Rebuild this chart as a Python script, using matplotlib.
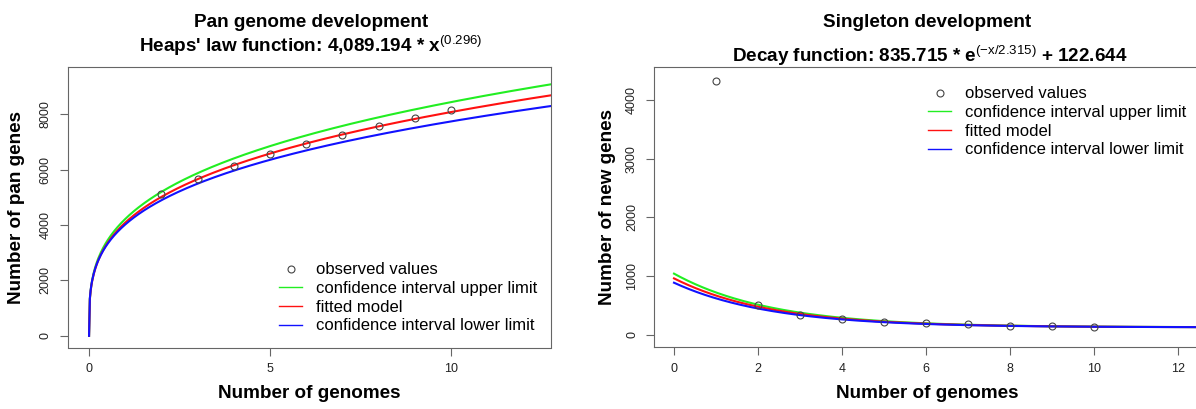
import numpy as np
import matplotlib.pyplot as plt
from matplotlib.lines import Line2D

plt.rcParams['font.family'] = ['Liberation Sans', 'DejaVu Sans']
plt.rcParams['mathtext.fontset'] = 'custom'
plt.rcParams['mathtext.rm'] = 'Liberation Sans:bold'
plt.rcParams['mathtext.it'] = 'Liberation Sans:bold'
plt.rcParams['mathtext.bf'] = 'Liberation Sans:bold'
plt.rcParams['mathtext.sf'] = 'Liberation Sans'

pan_genomes = [2, 3, 4, 5, 6, 7, 8, 9, 10]
pan_genes = [5116, 5668, 6148, 6560, 6921, 7267, 7570, 7881, 8159]
new_genomes = [1, 2, 3, 4, 5, 6, 7, 8, 9, 10]
new_genes = [4330, 497, 326, 262, 216, 194, 175, 154, 140, 128]

# fitted models: Heaps' law k * x^gamma, decay a * exp(-x/tau) + c
heaps_fit = (4089.194, 0.296)
heaps_upper = (4222.0, 0.301)
heaps_lower = (4022.0, 0.2846)
decay_fit = (835.715, 2.315, 122.644)
decay_upper = (917.0, 2.315, 122.644)
decay_lower = (762.0, 2.315, 122.644)

legend_labels = ['observed values', 'confidence interval upper limit',
                 'fitted model', 'confidence interval lower limit']

W, H = 1196, 409
def fx(px):
    return px / W
def fy(py):
    return 1 - py / H

GREEN, RED, BLUE = '#22ee22', '#ff1111', '#1111ff'
GRAY = '#666666'

fig = plt.figure(figsize=(W / 100, H / 100), dpi=100)
ax1 = fig.add_axes([fx(67.7), fy(347.5), fx(551 - 67.7), (347.5 - 66.7) / H])
ax2 = fig.add_axes([fx(654), fy(347), fx(1200 - 654), (347 - 67) / H])

x = np.linspace(0, 13, 600)

def heaps(p):
    return p[0] * x ** p[1]

def decay(p):
    return p[0] * np.exp(-x / p[1]) + p[2]

def handles():
    return [Line2D([], [], ls='none', marker='o', mfc='none', mec='#444444', ms=5, mew=0.8),
            Line2D([], [], color=GREEN, lw=1),
            Line2D([], [], color=RED, lw=1),
            Line2D([], [], color=BLUE, lw=1)]

# left panel
ax1.plot(x, heaps(heaps_upper), color=GREEN, lw=1.5)
ax1.plot(x, heaps(heaps_fit), color=RED, lw=1.5)
ax1.plot(x, heaps(heaps_lower), color=BLUE, lw=1.5)
ax1.plot(pan_genomes, pan_genes, ls='none', marker='o', mfc='none', mec='#444444', ms=5, mew=0.8, zorder=5)
ax1.set_xlim(-0.59, 12.76)
ax1.set_ylim(-422, 9722)
ax1.set_xticks([0, 5, 10])
ax1.set_yticks([0, 2000, 4000, 6000, 8000])
ax1.legend(handles(), legend_labels, loc='upper left', bbox_to_anchor=(fx(279), fy(262.5)),
           bbox_transform=fig.transFigure, frameon=False, borderpad=0, borderaxespad=0,
           handlelength=1.4, handletextpad=0.8, labelspacing=0.22, fontsize=12)

# right panel
ax2.plot(x, decay(decay_upper), color=GREEN, lw=1.5)
ax2.plot(x, decay(decay_fit), color=RED, lw=1.5)
ax2.plot(x, decay(decay_lower), color=BLUE, lw=1.5)
ax2.plot(new_genomes, new_genes, ls='none', marker='o', mfc='none', mec='#444444', ms=5, mew=0.8, zorder=5)
ax2.set_xlim(-0.476, 12.52)
ax2.set_ylim(-213, 4567)
ax2.set_xticks(range(0, 13, 2))
ax2.set_yticks([0, 1000, 2000, 3000, 4000])
ax2.legend(handles(), legend_labels, loc='upper left', bbox_to_anchor=(fx(928), fy(86.5)),
           bbox_transform=fig.transFigure, frameon=False, borderpad=0, borderaxespad=0,
           handlelength=1.4, handletextpad=0.8, labelspacing=0.22, fontsize=12)
ax2.spines['right'].set_visible(False)

for ax in (ax1, ax2):
    for s in ax.spines.values():
        s.set_color(GRAY)
    ax.tick_params(colors=GRAY, labelcolor='#222222', labelsize=9, length=5.5, direction='out')
    ax.tick_params(axis='y', labelrotation=90, pad=6)
    ax.tick_params(axis='x', pad=6)
    for t in ax.get_yticklabels():
        t.set_va('center')

ax1.set_xlabel('Number of genomes', fontsize=13.6, fontweight='bold')
ax1.set_ylabel('Number of pan genes', fontsize=13.6, fontweight='bold')
ax2.set_xlabel('Number of genomes', fontsize=13.6, fontweight='bold')
ax2.set_ylabel('Number of new genes', fontsize=13.6, fontweight='bold')
ax1.xaxis.set_label_coords(0.5, (347.5 - 393) / (347.5 - 66.7))
ax2.xaxis.set_label_coords(0.5, (347 - 393) / (347 - 67))
ax1.yaxis.set_label_coords((17 - 67.7) / (551 - 67.7), 0.5)
ax2.yaxis.set_label_coords((607.5 - 654) / (1200 - 654), 0.5)
for ax in (ax1, ax2):
    ax.xaxis.label.set_va('center')
    ax.yaxis.label.set_va('center')

fig.text(fx(311), fy(22.7), 'Pan genome development', ha='center', va='center',
         fontsize=13.6, fontweight='bold')
fig.text(fx(310.6), fy(51.7), r"Heaps' law function: 4,089.194 * x$^{\mathsf{(0.296)}}$",
         ha='center', va='baseline', fontsize=13.6, fontweight='bold')
fig.text(fx(927), fy(22.7), 'Singleton development', ha='center', va='center',
         fontsize=13.6, fontweight='bold')
fig.text(fx(930), fy(62), r"Decay function: 835.715 * e$^{\mathsf{(-x/2.315)}}$ + 122.644",
         ha='center', va='baseline', fontsize=13.6, fontweight='bold')

fig.savefig('out.png', dpi=100)
